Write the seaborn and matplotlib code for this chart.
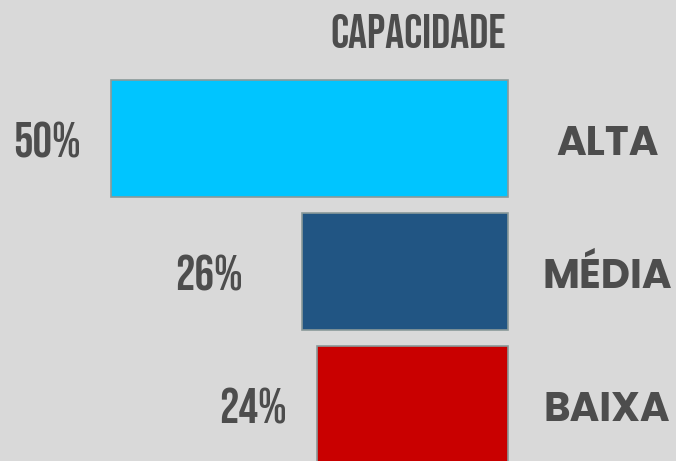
import matplotlib
matplotlib.use("Agg")
import matplotlib.pyplot as plt
import seaborn as sns
import pandas as pd

categories = ["ALTA", "MÉDIA", "BAIXA"]
values = [50, 26, 24]
value_labels = ["50%", "26%", "24%"]
colors = ["#00c5ff", "#215583", "#c90000"]
title = "CAPACIDADE"

sns.set_theme(style="white")
bg = "#d9d9d9"
text_color = "#4d4d4d"

df = pd.DataFrame({"categoria": categories, "valor": values})

fig = plt.figure(figsize=(6.76, 4.61), dpi=100, facecolor=bg)
ax = fig.add_axes([0, 0, 1, 1], facecolor=bg)

sns.barplot(data=df, x="valor", y="categoria", hue="categoria", palette=colors,
            saturation=1, orient="h", width=0.88, legend=False, ax=ax,
            edgecolor="#8a9a9a", linewidth=1.2)

# bars grow leftwards from the right-hand baseline
ax.set_xlim(63.98, -21.16)
ax.set_ylim(2.425, -1.041)
ax.axis("off")

display = "Bebas Neue"
label_offsets = [3.75, 7.4, 3.8]
for i, (v, lab, off) in enumerate(zip(values, value_labels, label_offsets)):
    ax.text(v + off, i + 0.14, lab, ha="right", va="baseline",
            fontsize=35, family=display, color=text_color)

for i, cat in enumerate(categories):
    ax.text(-12.5, i + 0.128, cat, ha="center", va="baseline",
            fontsize=29, fontweight="bold", family="Poppins",
            color=text_color)

ax.text(0.3, -0.68, title, ha="right", va="baseline", fontsize=34,
        family=display, color=text_color)

fig.savefig("out.png", dpi=100, facecolor=bg)
